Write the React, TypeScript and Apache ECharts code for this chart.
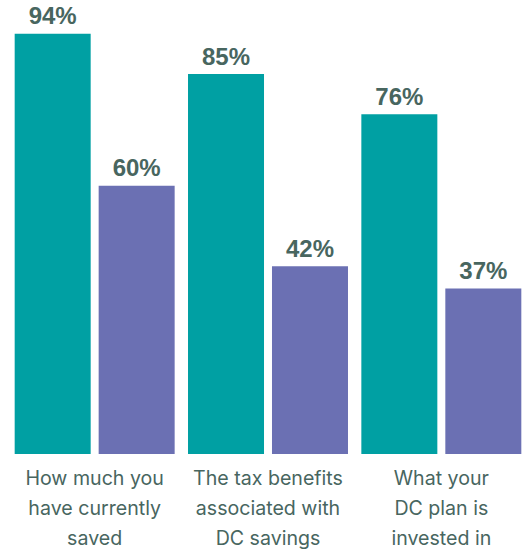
import React, { useEffect, useRef } from "react";
import * as echarts from "echarts";

const categories = [
  "How much you\nhave currently\nsaved",
  "The tax benefits\nassociated with\nDC savings",
  "What your\nDC plan is\ninvested in",
];
const seriesA = [94, 85, 76];
const seriesB = [60, 42, 37];

export default function App() {
  const ref = useRef<HTMLDivElement>(null);
  useEffect(() => {
    if (!ref.current) return;
    const chart = echarts.init(ref.current, undefined, { renderer: "svg" });
    const textColor = "#48665f";
    const label = {
      show: true,
      position: "top" as const,
      distance: 6,
      formatter: "{c}%",
      fontFamily: "Liberation Sans, Arial, sans-serif",
      fontWeight: 700,
      fontSize: 24,
      color: textColor,
    };
    chart.setOption({
      animation: false,
      grid: { left: 8, right: -3, top: 7, bottom: 95, outerBoundsMode: "none", containLabel: false },
      xAxis: {
        type: "category",
        data: categories,
        axisLine: { show: false },
        axisTick: { show: false },
        axisLabel: {
          margin: 9,
          fontFamily: "Inter",
          fontSize: 19.6,
          lineHeight: 30,
          color: textColor,
          interval: 0,
        },
      },
      yAxis: {
        type: "value",
        min: 0,
        max: 100,
        show: false,
        splitLine: { show: false },
      },
      series: [
        {
          type: "bar",
          data: seriesA,
          barWidth: 76,
          barGap: "10.5%",
          itemStyle: { color: "#00a0a3" },
          label,
        },
        {
          type: "bar",
          data: seriesB,
          barWidth: 76,
          itemStyle: { color: "#6b70b3" },
          label,
        },
      ],
    });
    return () => chart.dispose();
  }, []);
  return (
    <div
      ref={ref}
      style={{ position: "absolute", left: 0, top: 0, width: 525, height: 549 }}
    />
  );
}
